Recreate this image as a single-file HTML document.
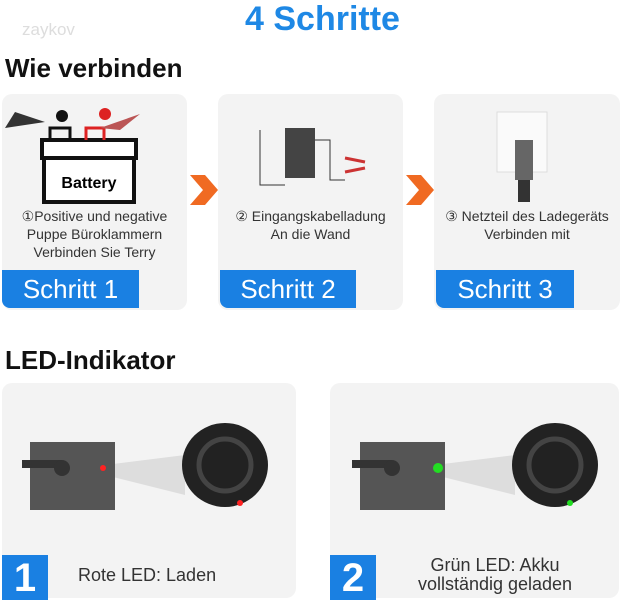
<!DOCTYPE html>
<html><head><meta charset="utf-8"><style>
body{margin:0;width:621px;height:600px;background:#fff;position:relative;overflow:hidden;font-family:"Liberation Sans",sans-serif}
.a{position:absolute}
.card{position:absolute;background:#f3f3f3;border-radius:10px}
.btn{position:absolute;background:#1a80e2;color:#fff;font-size:26px;text-align:center;line-height:38px;border-radius:0 0 0 8px}
.t{position:absolute;font-size:14px;color:#333;text-align:center;line-height:18px}
.num{position:absolute;background:#1a80e2;color:#fff;font-size:40px;font-weight:bold;text-align:center;line-height:46px}
</style></head><body>
<div class="a" style="left:0;width:645px;top:0;text-align:center;font-size:34px;font-weight:bold;color:#1e88e5">4 Schritte</div>
<div class="a" style="left:22px;top:20px;font-size:17px;color:#ddd">zaykov</div>
<div class="a" style="left:5px;top:53px;font-size:26px;font-weight:bold;color:#111">Wie verbinden</div>

<div class="card" style="left:2px;top:94px;width:185px;height:216px"></div>
<div class="card" style="left:218px;top:94px;width:185px;height:216px"></div>
<div class="card" style="left:434px;top:94px;width:186px;height:216px"></div>

<svg class="a" style="left:0;top:90px" width="621" height="130">
<rect x="42" y="50" width="94" height="18" fill="#fff" stroke="#111" stroke-width="4"/>
<rect x="44" y="68" width="90" height="44" fill="#fff" stroke="#111" stroke-width="4"/>
<text x="89" y="98" font-family="Liberation Sans" font-size="16" font-weight="bold" text-anchor="middle">Battery</text>
<path d="M50 50V38H70V50" fill="none" stroke="#111" stroke-width="3"/>
<path d="M86 50V38H104V50" fill="none" stroke="#d22" stroke-width="3"/>
<circle cx="62" cy="26" r="6" fill="#111"/><circle cx="105" cy="24" r="6" fill="#d22"/>
<path d="M5 38L45 32L15 22Z" fill="#333"/><path d="M100 38L140 24L120 40Z" fill="#b55"/>
<rect x="285" y="38" width="30" height="50" fill="#444"/>
<path d="M260 40V95H285M315 50H330V90H345" fill="none" stroke="#333"/>
<path d="M345 68L365 72M345 82L365 78" stroke="#c33" stroke-width="3"/>
<rect x="497" y="22" width="50" height="60" fill="#fafafa" stroke="#ddd"/>
<rect x="515" y="50" width="18" height="40" fill="#666"/><rect x="518" y="90" width="12" height="22" fill="#333"/>
<path d="M190 100L203 115L190 130L205 130L218 115L205 100Z" fill="#f06a22" transform="translate(0,-15)"/>
<path d="M406 100L419 115L406 130L421 130L434 115L421 100Z" fill="#f06a22" transform="translate(0,-15)"/>
</svg>

<div class="t" style="left:2px;width:185px;top:207px">①Positive und negative<br>Puppe Büroklammern<br>Verbinden Sie Terry</div>
<div class="t" style="left:218px;width:185px;top:207px">② Eingangskabelladung<br>An die Wand</div>
<div class="t" style="left:434px;width:186px;top:207px">③ Netzteil des Ladegeräts<br>Verbinden mit</div>

<div class="btn" style="left:2px;top:270px;width:137px">Schritt 1</div>
<div class="btn" style="left:220px;top:270px;width:136px">Schritt 2</div>
<div class="btn" style="left:436px;top:270px;width:138px">Schritt 3</div>

<div class="a" style="left:5px;top:345px;font-size:26px;font-weight:bold;color:#111">LED-Indikator</div>

<div class="card" style="left:2px;top:383px;width:294px;height:215px"></div>
<div class="card" style="left:330px;top:383px;width:289px;height:215px"></div>

<svg class="a" style="left:0;top:420px" width="621" height="110">
<g>
<polygon points="105,45 185,35 185,75 105,55" fill="#ddd"/>
<rect x="30" y="22" width="85" height="68" fill="#555"/>
<rect x="22" y="40" width="40" height="8" fill="#333"/><circle cx="62" cy="48" r="8" fill="#333"/>
<circle cx="103" cy="48" r="3" fill="#f22"/>
<ellipse cx="225" cy="45" rx="43" ry="42" fill="#222"/>
<circle cx="225" cy="45" r="26" fill="none" stroke="#444" stroke-width="5"/>
<circle cx="240" cy="83" r="3" fill="#f22"/>
</g>
<g transform="translate(330,0)">
<polygon points="105,45 185,35 185,75 105,55" fill="#ddd"/>
<rect x="30" y="22" width="85" height="68" fill="#555"/>
<rect x="22" y="40" width="40" height="8" fill="#333"/><circle cx="62" cy="48" r="8" fill="#333"/>
<circle cx="108" cy="48" r="5" fill="#2d2"/>
<ellipse cx="225" cy="45" rx="43" ry="42" fill="#222"/>
<circle cx="225" cy="45" r="26" fill="none" stroke="#444" stroke-width="5"/>
<circle cx="240" cy="83" r="3" fill="#2d2"/>
</g>
</svg>

<div class="num" style="left:2px;top:555px;width:46px;height:45px">1</div>
<div class="num" style="left:330px;top:555px;width:46px;height:45px">2</div>
<div class="a" style="left:78px;top:565px;font-size:18px;color:#333">Rote LED: Laden</div>
<div class="a" style="left:400px;top:556px;width:190px;text-align:center;font-size:18px;color:#333;line-height:19px">Grün LED: Akku<br>vollständig geladen</div>
</body></html>
